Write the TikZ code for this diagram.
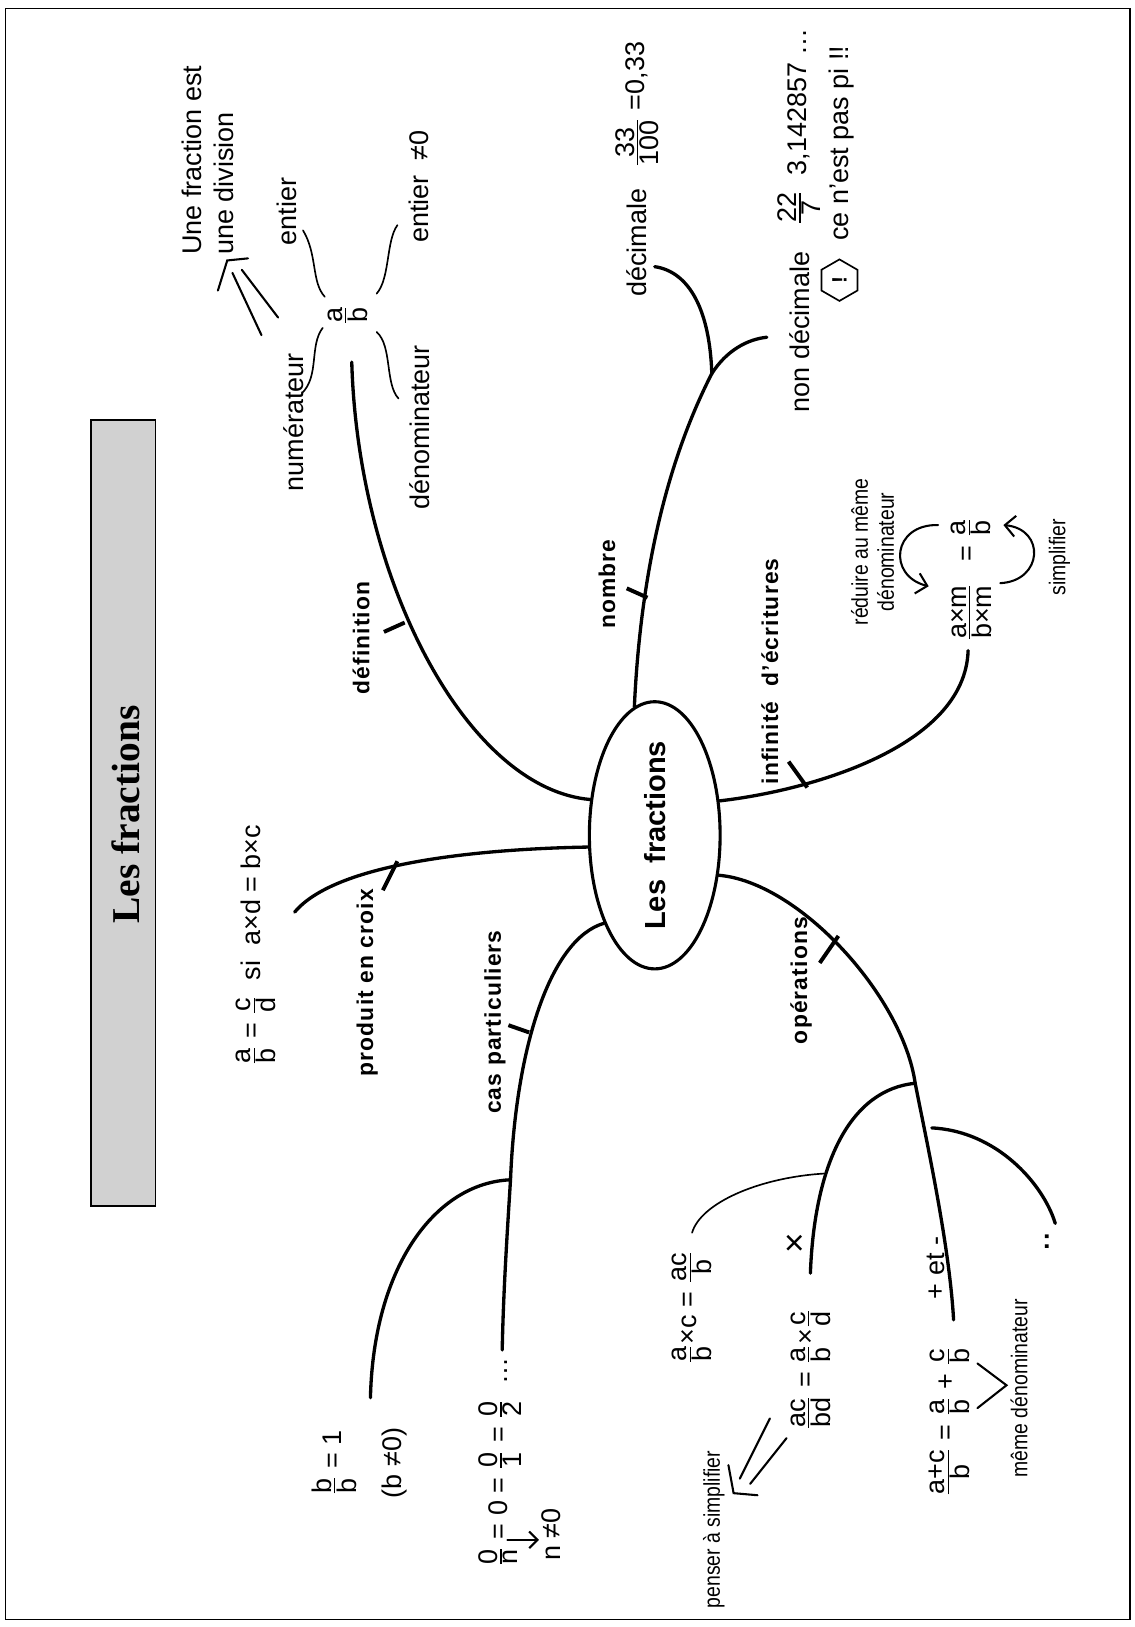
\documentclass[tikz,border=0pt]{standalone}
\usepackage{fontspec}
\usepackage{amsmath}
\usepackage{graphicx}
\usetikzlibrary{arrows.meta,shapes.geometric,calc}
\setmainfont{Liberation Sans}
\newfontfamily\titlefont{Liberation Serif}
\newfontfamily\lblfont[LetterSpace=5]{Liberation Sans}
\newfontfamily\notefont[FakeStretch=0.85]{Liberation Sans}
\newcommand{\fr}[2]{\ensuremath{\genfrac{}{}{0.6pt}{1}{\hbox{#1}}{\hbox{#2}}}}

\begin{document}
\begin{tikzpicture}[x=0.5pt, y=-0.5pt,
  every node/.style={font=\fontsize{13}{15.5}\selectfont},
  vtxt/.style={rotate=90, inner sep=1pt},
  lbl/.style={rotate=90, inner sep=1pt, font=\lblfont\bfseries\fontsize{11}{13}\selectfont},
  note/.style={rotate=90, inner sep=1pt, align=center, font=\notefont\fontsize{11}{12.5}\selectfont},
  branch/.style={line width=1.6pt, line cap=round},
  brtick/.style={line width=1.9pt},
  wavy/.style={line width=0.8pt, line cap=round},
  thinline/.style={line width=0.8pt, line cap=round}]

  \useasboundingbox (0,0) rectangle (1093,1568);

  % ---- Page frame ----
  \draw[line width=0.6pt] (5,8) rectangle (1089,1561);

  % ---- Title strip ----
  \draw[fill=black!18, line width=0.8pt] (88,405) rectangle (150,1162);
  \node[rotate=90, font=\titlefont\bfseries\fontsize{19}{21}\selectfont] (title) at (121,785) {Les fractions};

  % ---- Centre ----
  \node[ellipse, draw, line width=1.5pt, minimum width=63pt, minimum height=105pt, inner sep=0pt,
        font=\bfseries\fontsize{14}{16}\selectfont] (ell) at (631,805) {\rotatebox{90}{Les\ \ fractions}};

  % ---- Branch labels ----
  \node[lbl] (lDef)  at (348,615) {définition};
  \node[lbl] (lNomb) at (585,563) {nombre};
  \node[lbl] (lInf)  at (742,647) {infinité \ d’écritures};
  \node[lbl] (lOp)   at (772,945) {opérations};
  \node[lbl] (lCas)  at (477,985) {cas particuliers};
  \node[lbl] (lProd) at (354,947) {produit en croix};

  % ---- Main branches ----
  \draw[branch] (ell.151) .. controls (450,760) and (345,560) .. (339,349);
  \draw[branch] (ell.99) .. controls (617,560) and (640,450) .. (686,360);
  \draw[branch] (ell.28) .. controls (780,762) and (930,720) .. (933,627);
  \draw[branch] (ell.-32) .. controls (770,850) and (870,960) .. (882,1044)
                .. controls (893,1100) and (915,1200) .. (919,1272);
  \draw[branch] (ell.190) .. controls (470,818) and (325,830) .. (284,879);
  \draw[branch] (ell.240) .. controls (530,905) and (497,1010) .. (492,1137)
                .. controls (488,1200) and (485,1250) .. (484,1301);

  % ---- Ticks ----
  \draw[brtick] (390,600) -- (370,609);
  \draw[brtick] (624,576) -- (604,567);
  \draw[brtick] (778,759) -- (760,734);
  \draw[brtick] (808,902) -- (790,928);
  \draw[brtick] (383,830) -- (369,858);
  \draw[brtick] (510,995) -- (490,988);

  % ---- Definition ----
  \node[vtxt, font=\fontsize{13}{15}\selectfont] (ab) at (335,304) {\fr{a}{b}};
  \node[vtxt] (num)  at (283,407) {numérateur};
  \node[vtxt] (den)  at (404,412) {dénominateur};
  \node[vtxt] (ent1) at (276,204) {entier};
  \node[vtxt] (ent2) at (404,180) {entier \ ≠0};
  \node[vtxt, anchor=west, align=left] (div) at (200,248) {Une fraction est\\une division};
  \draw[wavy] (313,286) .. controls (300,272) and (306,245) .. (292,222);
  \draw[wavy] (363,283) .. controls (376,268) and (372,232) .. (383,217);
  \draw[wavy] (311,316) .. controls (298,333) and (308,362) .. (291,379);
  \draw[wavy] (363,320) .. controls (378,333) and (371,370) .. (384,384);
  % implies
  \draw[thinline, line width=1pt] (252,323) -- (224,263);
  \draw[thinline, line width=1pt] (268,306) -- (233,260);
  \draw[thinline, line width=1pt] (210,280) -- (219,251) -- (239,249);

  % ---- Nombre ----
  \draw[branch] (686,360) .. controls (684,300) and (665,262) .. (631,257);
  \draw[branch] (686,360) .. controls (700,338) and (720,327) .. (739,325);
  \node[vtxt] (dec)   at (614,234) {décimale};
  \node[vtxt] (decv)  at (614,101) {\fr{33}{100} =0,33};
  \node[vtxt] (ndec)  at (771,320) {non décimale};
  \node[vtxt] (ndecv) at (770,122) {\fr{22}{7} \ 3,142857 \dots};
  \node[regular polygon, regular polygon sides=6, draw, rotate=90, minimum size=20pt,
        inner sep=0pt, line width=0.8pt, font=\bfseries\fontsize{10}{12}\selectfont] (warn) at (809,270) {!};
  \node[vtxt] (pi) at (811,138) {ce n’est pas pi !!};

  % ---- Infinite writings ----
  \node[note] (red)  at (841,532) {réduire au même\\dénominateur};
  \node[vtxt] (fxm)  at (936,590) {\fr{a×m}{b×m}};
  \node[vtxt] (fab)  at (936,520) {= \fr{a}{b}};
  \node[note] (simp) at (1021,537) {simplifier};
  \draw[thinline, line width=1pt, -{Straight Barb[length=5pt]}]
    (904,506) .. controls (860,505) and (855,555) .. (895,565);
  \draw[thinline, line width=1pt, -{Straight Barb[length=5pt]}]
    (964,562) .. controls (1005,560) and (1008,510) .. (967,506);

  % ---- Produit en croix ----
  \node[vtxt] (cross) at (247,911) {\fr{a}{b} = \fr{c}{d} \ si \ a×d = b×c};

  % ---- Cas particuliers ----
  \draw[branch] (492,1137) .. controls (420,1140) and (360,1220) .. (357,1347);
  \node[vtxt] (bb)    at (322,1410) {\fr{b}{b} = 1};
  \node[vtxt] (bnz)   at (380,1410) {(b ≠0)};
  \node[vtxt] (zeros) at (482,1409) {\fr{0}{n} = 0 = \fr{0}{1} = \fr{0}{2} \ \dots};
  \node[vtxt] (nz)    at (531,1479) {n ≠0};
  \coordinate (nbar) at (489,1484);
  \draw[thinline, line width=1pt, -{Straight Barb[length=4pt]}] (nbar) -- (nbar -| nz.north);

  % ---- Operations ----
  \draw[branch] (882,1044) .. controls (820,1050) and (785,1120) .. (781,1227);
  \draw[thinline] (794,1131) .. controls (730,1135) and (675,1160) .. (667,1188);
  \draw[branch] (898,1087) .. controls (960,1090) and (1005,1140) .. (1017,1179);
  \node[vtxt] (mulc)  at (667,1260) {\fr{a}{b}×c = \fr{ac}{b}};
  \node[vtxt, font=\fontsize{17}{19}\selectfont] (times) at (768,1198) {×};
  \node[vtxt] (mulf)  at (781,1320) {\fr{ac}{bd} = \fr{a}{b}×\fr{c}{d}};
  \node[vtxt] (pm)    at (902,1222) {+ et -};
  \node[vtxt] (add)   at (915,1370) {\fr{a+c}{b} = \fr{a}{b} + \fr{c}{b}};
  \node[note] (meme)  at (982,1338) {même dénominateur};
  \node[font=\bfseries\fontsize{13}{15}\selectfont] (divs) at (1009,1197) {:};
  \node[note] (pens)  at (688,1474) {penser à simplifier};
  \draw[thinline, line width=1pt] (942,1357) -- (970,1335) -- (942,1314);
  \draw[thinline, line width=1pt] (742,1367) -- (713,1425);
  \draw[thinline, line width=1pt] (758,1386) -- (723,1430);
  \draw[thinline, line width=1pt] (702,1412) -- (707,1439) -- (730,1441);

\end{tikzpicture}
\end{document}
